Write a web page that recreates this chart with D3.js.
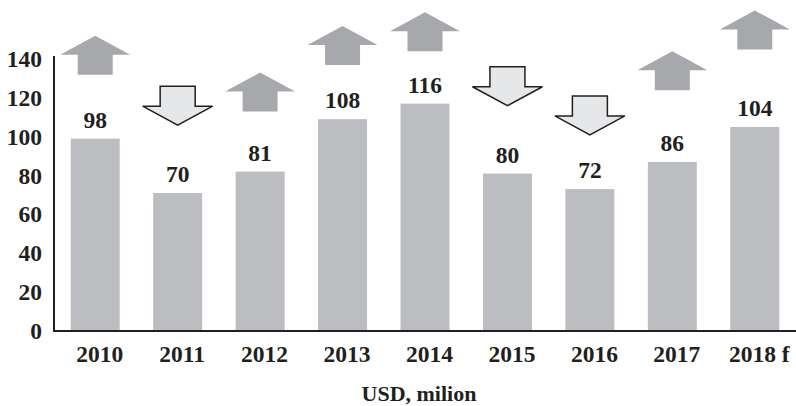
<!DOCTYPE html>
<html>
<head>
<meta charset="utf-8">
<script src="https://cdn.jsdelivr.net/npm/d3@7"></script>
<style>
  html, body { margin: 0; padding: 0; background: #ffffff; }
  svg { display: block; }
  text { font-family: "Liberation Serif", "Times New Roman", serif; font-weight: bold; fill: #231f20; }
</style>
</head>
<body>
<svg id="chart" width="796" height="406"></svg>
<script>
// ---- data ----
const categories = ["2010", "2011", "2012", "2013", "2014", "2015", "2016", "2017", "2018 f"];
const values = [98, 70, 81, 108, 116, 80, 72, 86, 104];
const directions = ["up", "down", "up", "up", "up", "down", "down", "up", "up"];
const arrowTops = [152, 126, 133, 157, 164, 136, 121, 144, 165];
const yTicks = [0, 20, 40, 60, 80, 100, 120, 140];
const axisTitle = "USD, milion";

// ---- layout ----
const left = 54, right = 796, baseY = 331, topY = 59;
const FS = 23.5;

const svg = d3.select("#chart");

const x = d3.scaleBand()
  .domain(categories)
  .range([left, right])
  .paddingInner(0.406)
  .paddingOuter(0.203);

const y = d3.scaleLinear().domain([0, 140]).range([baseY, topY]);

// bars
svg.append("g").selectAll("rect")
  .data(values)
  .join("rect")
  .attr("x", (d, i) => x(categories[i]))
  .attr("y", d => y(d) - 2)
  .attr("width", x.bandwidth())
  .attr("height", d => y(0) - y(d) + 2)
  .attr("fill", "#bcbdc1");

// value labels
svg.append("g").selectAll("text")
  .data(values)
  .join("text")
  .attr("x", (d, i) => x(categories[i]) + x.bandwidth() / 2)
  .attr("y", d => y(d) - 13)
  .attr("text-anchor", "middle")
  .attr("font-size", FS)
  .text(d => d);

// arrows
const aw = 70, hh = 19, sw = 35, sh = 20;
function arrowPath(cx, top, dir) {
  if (dir === "up") {
    return [
      [cx, top], [cx + aw / 2, top + hh], [cx + sw / 2, top + hh],
      [cx + sw / 2, top + hh + sh], [cx - sw / 2, top + hh + sh],
      [cx - sw / 2, top + hh], [cx - aw / 2, top + hh]
    ];
  } else {
    return [
      [cx - sw / 2, top], [cx + sw / 2, top], [cx + sw / 2, top + sh],
      [cx + aw / 2, top + sh], [cx, top + sh + hh], [cx - aw / 2, top + sh],
      [cx - sw / 2, top + sh]
    ];
  }
}
svg.append("g").selectAll("path")
  .data(arrowTops)
  .join("path")
  .attr("d", (d, i) => {
    const cx = x(categories[i]) + x.bandwidth() / 2;
    return "M" + arrowPath(cx, y(d), directions[i]).map(p => p.join(",")).join("L") + "Z";
  })
  .attr("fill", (d, i) => directions[i] === "up" ? "#a7a8ac" : "#e6e7e8")
  .attr("stroke", (d, i) => directions[i] === "up" ? "none" : "#231f20")
  .attr("stroke-width", 1.5)
  .attr("stroke-linejoin", "miter");

// y axis
const yAxis = d3.axisLeft(y).tickValues(yTicks).tickSize(0).tickPadding(12);
const gy = svg.append("g").attr("transform", `translate(${left},0)`).call(yAxis);
gy.select(".domain").remove();
gy.selectAll("text")
  .attr("font-size", FS)
  .attr("font-family", "Liberation Serif, Times New Roman, serif")
  .attr("font-weight", "bold")
  .attr("fill", "#231f20");
svg.append("line")
  .attr("x1", left).attr("x2", left)
  .attr("y1", y(140) - 3).attr("y2", baseY + 1)
  .attr("stroke", "#231f20").attr("stroke-width", 2);

// x axis
const xAxis = d3.axisBottom(x).tickSize(0).tickPadding(14);
const gx = svg.append("g").attr("transform", `translate(0,${baseY})`).call(xAxis);
gx.select(".domain").remove();
gx.selectAll("text")
  .attr("dx", 4.5)
  .attr("font-size", FS)
  .attr("font-family", "Liberation Serif, Times New Roman, serif")
  .attr("font-weight", "bold")
  .attr("fill", "#231f20");
svg.append("line")
  .attr("x1", left - 1).attr("x2", right)
  .attr("y1", baseY).attr("y2", baseY)
  .attr("stroke", "#231f20").attr("stroke-width", 2);

// axis title
svg.append("text")
  .attr("x", 419)
  .attr("y", 401)
  .attr("text-anchor", "middle")
  .attr("font-size", 22)
  .text(axisTitle);
</script>
</body>
</html>
